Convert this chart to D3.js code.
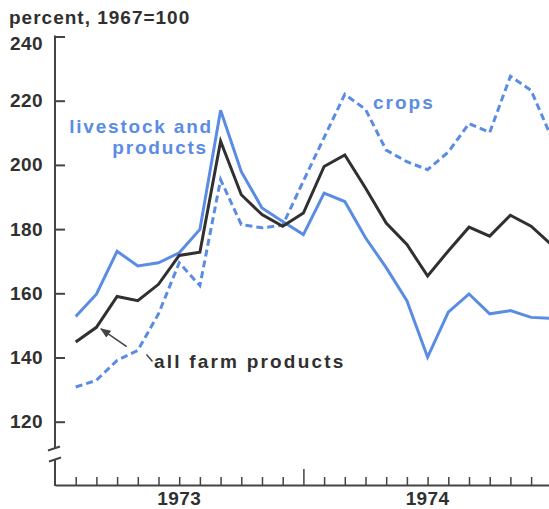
<!DOCTYPE html>
<html>
<head>
<meta charset="utf-8">
<script src="https://cdnjs.cloudflare.com/ajax/libs/d3/7.8.5/d3.min.js"></script>
<style>
    body { margin: 0; background: #fff; }
    svg { display: block; font-family: "Liberation Sans", Arial, sans-serif; font-weight: bold; }
</style>
</head>
<body>
<div id="chart"></div>
<script>
//Width and height
var w = 549;
var h = 509;

//Months, Jan 1973 .. Dec 1974 (index 1..24 on the axis)
var months = ["Jan 73","Feb 73","Mar 73","Apr 73","May 73","Jun 73","Jul 73","Aug 73","Sep 73","Oct 73","Nov 73","Dec 73",
              "Jan 74","Feb 74","Mar 74","Apr 74","May 74","Jun 74","Jul 74","Aug 74","Sep 74","Oct 74","Nov 74","Dec 74"];

//Index values, 1967=100
var livestock = [152.8, 159.7, 173.1, 168.5, 169.5, 172.6, 179.9, 217.0, 197.9, 186.6, 182.4, 178.3,
                 191.2, 188.6, 177.3, 168.0, 157.7, 140.1, 154.1, 159.8, 153.6, 154.6, 152.5, 152.2];
var allFarm   = [144.8, 149.4, 159.0, 157.7, 162.8, 171.8, 172.8, 207.4, 190.7, 184.5, 180.9, 185.0,
                 199.5, 203.1, 192.8, 181.9, 175.2, 165.4, 173.2, 180.6, 177.8, 184.3, 180.9, 175.0];
var crops     = [130.8, 132.9, 139.1, 142.2, 153.6, 169.5, 162.4, 195.4, 181.4, 180.4, 181.2, 195.0,
                 208.5, 222.0, 217.3, 204.6, 201.0, 198.5, 204.0, 212.9, 210.1, 227.6, 223.2, 208.3];

//Axis labels
var yTicks = [120, 140, 160, 180, 200, 220, 240];
var years = ["1973", "1974"];

var blue = "#5b8ce4";
var dark = "#303030";

//Scales
var x = d3.scaleLinear()
    .domain([0, 24])
    .range([55, 551.8]);

var y = d3.scaleLinear()
    .domain([120, 240])
    .range([421.7, 36.5]);

//Create SVG element
var svg = d3.select("#chart")
    .append("svg")
    .attr("width", w)
    .attr("height", h);

svg.append("defs").append("marker")
    .attr("id", "arrow")
    .attr("viewBox", "0 0 10 10")
    .attr("refX", 9)
    .attr("refY", 5)
    .attr("markerWidth", 7)
    .attr("markerHeight", 7)
    .attr("orient", "auto")
    .append("path")
    .attr("d", "M0,1 L10,5 L0,9 z")
    .attr("fill", "#444");

//Title
svg.append("text")
    .attr("x", 9)
    .attr("y", 24)
    .attr("fill", dark)
    .style("font-size", "19px")
    .style("letter-spacing", "1px")
    .text("percent, 1967=100");

//Y axis, ticks point inward
var yAxis = d3.axisLeft(y)
    .tickValues(yTicks)
    .tickSizeInner(-10)
    .tickSizeOuter(0)
    .tickPadding(12);

var gy = svg.append("g")
    .attr("transform", "translate(" + x(0) + ",0)")
    .call(yAxis);

gy.select(".domain").remove();
gy.selectAll(".tick line").attr("stroke", "#444").attr("stroke-width", 2);
gy.selectAll(".tick text")
    .attr("fill", dark)
    .attr("y", function(d) { return d == 240 ? 7 : 0; })
    .style("font-size", "19px")
    .style("letter-spacing", "0.4px")
    .style("font-family", "'Liberation Sans', Arial, sans-serif");

//Y axis line with break
gy.append("line")
    .attr("x1", 0).attr("x2", 0)
    .attr("y1", y(240) - 1).attr("y2", 448)
    .attr("stroke", "#444").attr("stroke-width", 2);
gy.append("line")
    .attr("x1", -7).attr("x2", 5)
    .attr("y1", 450.5).attr("y2", 446.5)
    .attr("stroke", "#444").attr("stroke-width", 2);
gy.append("line")
    .attr("x1", -6).attr("x2", 6)
    .attr("y1", 461.5).attr("y2", 457.5)
    .attr("stroke", "#444").attr("stroke-width", 2);
gy.append("line")
    .attr("x1", 0).attr("x2", 0)
    .attr("y1", 459).attr("y2", 486)
    .attr("stroke", "#444").attr("stroke-width", 2);

//X axis, monthly ticks pointing up, long tick at year end
var xAxis = d3.axisBottom(x)
    .tickValues(d3.range(1, 24))
    .tickSizeInner(-8)
    .tickSizeOuter(0)
    .tickFormat("");

var gx = svg.append("g")
    .attr("transform", "translate(0,485)")
    .call(xAxis);

gx.select(".domain").attr("stroke", "#444").attr("stroke-width", 2);
gx.selectAll(".tick line")
    .attr("stroke", "#444")
    .attr("stroke-width", 1.5)
    .attr("y2", function(d) { return d % 12 == 0 ? -16 : -8; });

svg.selectAll(".year")
    .data(years)
    .enter()
    .append("text")
    .attr("class", "year")
    .attr("x", function(d, i) { return x(6 + i * 12); })
    .attr("y", 505)
    .attr("text-anchor", "middle")
    .attr("fill", dark)
    .style("font-size", "19px")
    .style("letter-spacing", "0.4px")
    .text(function(d) { return d; });

//Arrow pointing to all farm products line
svg.append("polyline")
    .attr("points", "126.7,346.7 101,328.8")
    .attr("fill", "none")
    .attr("stroke", "#444")
    .attr("stroke-width", 1.5)
    .attr("marker-end", "url(#arrow)");
svg.append("line")
    .attr("x1", 146.5).attr("y1", 354.5)
    .attr("x2", 152.5).attr("y2", 361.5)
    .attr("stroke", "#444")
    .attr("stroke-width", 1.5);

//Line generator
var line = d3.line()
    .x(function(d, i) { return x(i + 1); })
    .y(function(d) { return y(d); });

svg.append("path")
    .datum(livestock)
    .attr("d", line)
    .attr("fill", "none")
    .attr("stroke", blue)
    .attr("stroke-width", 3);

svg.append("path")
    .datum(crops)
    .attr("d", line)
    .attr("fill", "none")
    .attr("stroke", blue)
    .attr("stroke-width", 3)
    .attr("stroke-dasharray", "7,4");

svg.append("path")
    .datum(allFarm)
    .attr("d", line)
    .attr("fill", "none")
    .attr("stroke", dark)
    .attr("stroke-width", 3);

//Series labels
var lab = svg.append("text")
    .attr("fill", blue)
    .attr("text-anchor", "end")
    .style("font-size", "19px")
    .style("letter-spacing", "1.8px");
lab.append("tspan").attr("x", 213).attr("y", 133).text("livestock and");
lab.append("tspan").attr("x", 208).attr("y", 154).text("products");

svg.append("text")
    .attr("x", 373)
    .attr("y", 109)
    .attr("fill", blue)
    .style("font-size", "19px")
    .style("letter-spacing", "2px")
    .text("crops");

svg.append("text")
    .attr("x", 154)
    .attr("y", 368)
    .attr("fill", dark)
    .style("font-size", "19px")
    .style("letter-spacing", "2.2px")
    .text("all farm products");
</script>
</body>
</html>
